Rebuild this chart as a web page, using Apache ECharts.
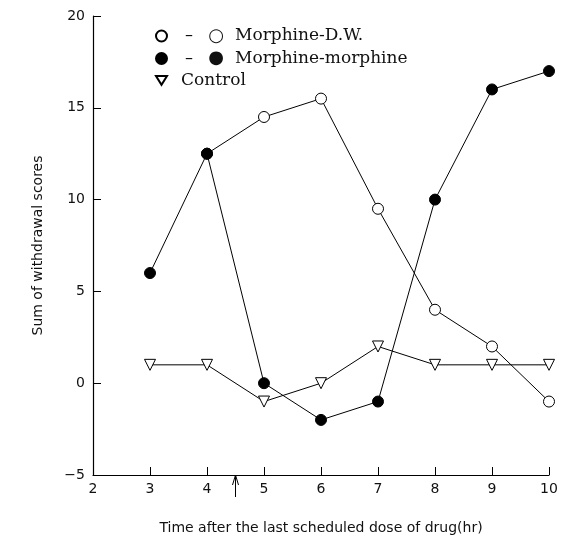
<!DOCTYPE html>
<html>
<head>
<meta charset="utf-8">
<script src="https://cdn.jsdelivr.net/npm/echarts@6/dist/echarts.min.js"></script>
<style>
  html, body { margin: 0; padding: 0; background: #fff; }
  #main { width: 567px; height: 547px; }
</style>
</head>
<body>
<div id="main"></div>
<script>
// hours after last dose
var hours = [3, 4, 5, 6, 7, 8, 9, 10];
// Morphine-D.W. starts from the shared point at 4 hr
var dwHours = [4, 5, 6, 7, 8, 9, 10];
var dwScores = [12.5, 14.5, 15.5, 9.5, 4, 2, -1];
var mmScores = [6, 12.5, 0, -2, -1, 10, 16, 17];
var ctrlScores = [1, 1, -1, 0, 2, 1, 1, 1];
var doseMark = 4.5;

function pairs(xs, ys) {
  return xs.map(function (x, i) { return [x, ys[i]]; });
}

var chartDom = document.getElementById("main");
var myChart = echarts.init(chartDom);
var option;

var tickFont = { fontFamily: "DejaVu Sans", fontSize: 14, color: "#111" };

option = {
  animation: false,
  grid: { left: 93, right: 18, top: 16, bottom: 72 },
  legend: {
    orient: "vertical",
    left: 150,
    top: 22,
    itemGap: 4.5,
    itemWidth: 11,
    itemHeight: 11,
    data: [
      { name: "Morphine-D.W.", icon: "circle" },
      { name: "Morphine-morphine", icon: "circle" },
      { name: "Control", icon: "path://M0,0L10,0L5,8Z" },
    ],
    formatter: function (name) {
      if (name === "Morphine-D.W.") return "{d|–}{o|○}" + name;
      if (name === "Morphine-morphine") return "{d|–}{o|●}" + name;
      return "{c|" + name + "}";
    },
    textStyle: {
      fontFamily: "DejaVu Serif",
      fontSize: 17,
      lineHeight: 14,
      color: "#111",
      rich: {
        d: { fontFamily: "DejaVu Sans", fontSize: 16, lineHeight: 14, width: 34, align: "center" },
        o: { fontFamily: "DejaVu Sans", fontSize: 18, lineHeight: 14, width: 20, align: "center", padding: [0, 9, 0, 0] },
        c: { fontFamily: "DejaVu Serif", fontSize: 17, lineHeight: 14, padding: [0, 0, 0, 9] },
      },
    },
  },
  xAxis: {
    type: "value",
    min: 2,
    max: 10,
    interval: 1,
    name: "Time after the last scheduled dose of drug(hr)",
    nameLocation: "middle",
    nameGap: 46,
    nameTextStyle: { fontFamily: "DejaVu Sans", fontSize: 14, color: "#111" },
    axisLine: { onZero: false, lineStyle: { color: "#000", width: 1.2 } },
    axisTick: { inside: true, length: 8, lineStyle: { color: "#000" } },
    axisLabel: Object.assign({ margin: 7 }, tickFont),
    splitLine: { show: false },
  },
  yAxis: {
    type: "value",
    min: -5,
    max: 20,
    interval: 5,
    name: "Sum of withdrawal scores",
    nameLocation: "middle",
    nameGap: 48,
    nameTextStyle: { fontFamily: "DejaVu Sans", fontSize: 14, color: "#111" },
    axisLine: { show: true, onZero: false, lineStyle: { color: "#000", width: 1.2 } },
    axisTick: { show: true, inside: true, length: 8, lineStyle: { color: "#000" } },
    axisLabel: Object.assign({
      margin: 8,
      formatter: function (v) { return v < 0 ? "\u2212" + Math.abs(v) : String(v); },
    }, tickFont),
    splitLine: { show: false },
  },
  series: [
    {
      name: "Control",
      type: "line",
      data: pairs(hours, ctrlScores),
      symbol: "triangle",
      symbolRotate: 180,
      symbolSize: 11,
      lineStyle: { color: "#000", width: 1 },
      itemStyle: { color: "#fff", borderColor: "#000", borderWidth: 1 },
    },
    {
      name: "Morphine-D.W.",
      type: "line",
      data: pairs(dwHours, dwScores),
      symbol: "circle",
      symbolSize: 11,
      lineStyle: { color: "#000", width: 1 },
      itemStyle: { color: "#fff", borderColor: "#000", borderWidth: 1 },
    },
    {
      name: "Morphine-morphine",
      type: "line",
      data: pairs(hours, mmScores),
      symbol: "circle",
      symbolSize: 11,
      lineStyle: { color: "#000", width: 1 },
      itemStyle: { color: "#000", borderColor: "#000", borderWidth: 1 },
    },
  ],
};

option && myChart.setOption(option);

// arrow under the x axis at the dose time
var p = myChart.convertToPixel({ gridIndex: 0 }, [doseMark, -5]);
myChart.setOption({
  graphic: [
    {
      type: "polyline",
      shape: { points: [[p[0], p[1] + 22], [p[0], p[1]]] },
      style: { stroke: "#000", lineWidth: 1, fill: null },
    },
    {
      type: "polyline",
      shape: { points: [[p[0] - 3, p[1] + 10], [p[0], p[1]], [p[0] + 3, p[1] + 10]] },
      style: { stroke: "#000", lineWidth: 1, fill: null },
    },
  ],
});
</script>
</body>
</html>
